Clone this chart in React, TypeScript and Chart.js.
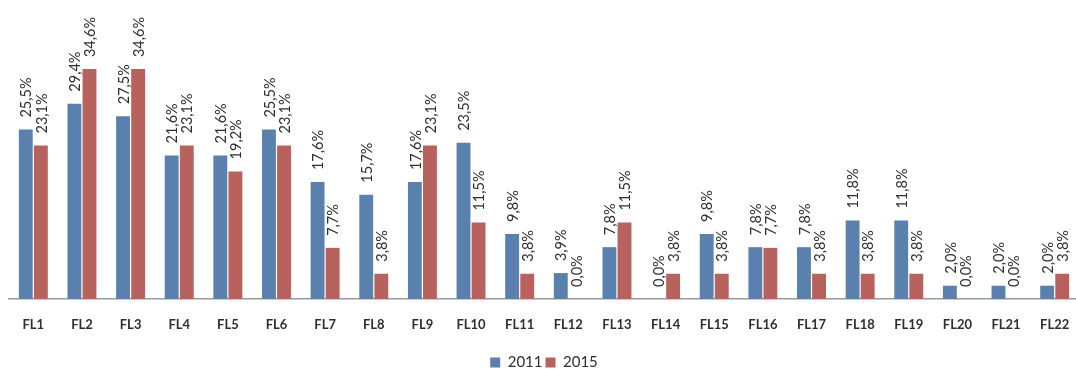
import React, { useEffect, useRef } from "react";
import { Chart, registerables } from "chart.js";

Chart.register(...registerables);

const categories = [
  "FL1", "FL2", "FL3", "FL4", "FL5", "FL6", "FL7", "FL8", "FL9", "FL10", "FL11",
  "FL12", "FL13", "FL14", "FL15", "FL16", "FL17", "FL18", "FL19", "FL20", "FL21", "FL22",
];
const values2011 = [25.5, 29.4, 27.5, 21.6, 21.6, 25.5, 17.6, 15.7, 17.6, 23.5, 9.8, 3.9, 7.8, 0.0, 9.8, 7.8, 7.8, 11.8, 11.8, 2.0, 2.0, 2.0];
const values2015 = [23.1, 34.6, 34.6, 23.1, 19.2, 23.1, 7.7, 3.8, 23.1, 11.5, 3.8, 0.0, 11.5, 3.8, 3.8, 7.7, 3.8, 3.8, 3.8, 0.0, 0.0, 3.8];
const seriesNames = ["2011", "2015"];

const BLUE = "#5a80ad";
const RED = "#b8625d";
const TEXT = "#2e2e2e";
const FONT = "Lato, 'Open Sans', sans-serif";

const fmt = (v: number) => v.toFixed(1).replace(".", ",") + "%";

// Vertical value labels written bottom-to-top above each bar
const valueLabels = {
  id: "valueLabels",
  afterDatasetsDraw(chart: any) {
    const ctx = chart.ctx;
    ctx.save();
    ctx.fillStyle = TEXT;
    ctx.font = `14.5px ${FONT}`;
    ctx.textAlign = "left";
    ctx.textBaseline = "middle";
    chart.data.datasets.forEach((ds: any, di: number) => {
      const meta = chart.getDatasetMeta(di);
      meta.data.forEach((bar: any, i: number) => {
        const v = ds.data[i];
        ctx.save();
        ctx.translate(bar.x + 1, bar.y - 12);
        ctx.rotate(-Math.PI / 2);
        ctx.fillText(fmt(v), 0, 0);
        ctx.restore();
      });
    });
    ctx.restore();
  },
};

export default function App() {
  const canvasRef = useRef<HTMLCanvasElement>(null);

  useEffect(() => {
    const chart = new Chart(canvasRef.current!, {
      type: "bar",
      data: {
        labels: categories,
        datasets: [
          { label: seriesNames[0], data: values2011, backgroundColor: BLUE },
          { label: seriesNames[1], data: values2015, backgroundColor: RED },
        ],
      },
      options: {
        animation: false,
        responsive: false,
        layout: { padding: { left: 9, right: 1, top: 0, bottom: -8 } },
        datasets: {
          bar: { categoryPercentage: 0.62, barPercentage: 0.92 },
        },
        plugins: {
          legend: {
            position: "bottom",
            labels: {
              color: TEXT,
              font: { family: FONT, size: 15 },
              boxWidth: 10,
              boxHeight: 10,
              padding: 3,
            },
          },
          tooltip: { enabled: false },
        },
        scales: {
          x: {
            grid: { display: false },
            border: { display: true, color: "#9a9a9a", width: 1.5 },
            ticks: {
              color: TEXT,
              font: { family: FONT, size: 13, weight: "bold" },
              padding: 10,
              maxRotation: 0,
            },
            afterFit: (scale: any) => {
              scale.height = 53;
            },
          },
          y: {
            display: false,
            min: 0,
            max: 45,
          },
        },
      },
      plugins: [valueLabels],
    });
    return () => chart.destroy();
  }, []);

  return (
    <div style={{ position: "absolute", left: 0, top: 0, width: 1076, height: 372, overflow: "hidden", background: "#fff" }}>
      <canvas ref={canvasRef} width={1080} height={372} style={{ display: "block" }} />
    </div>
  );
}
